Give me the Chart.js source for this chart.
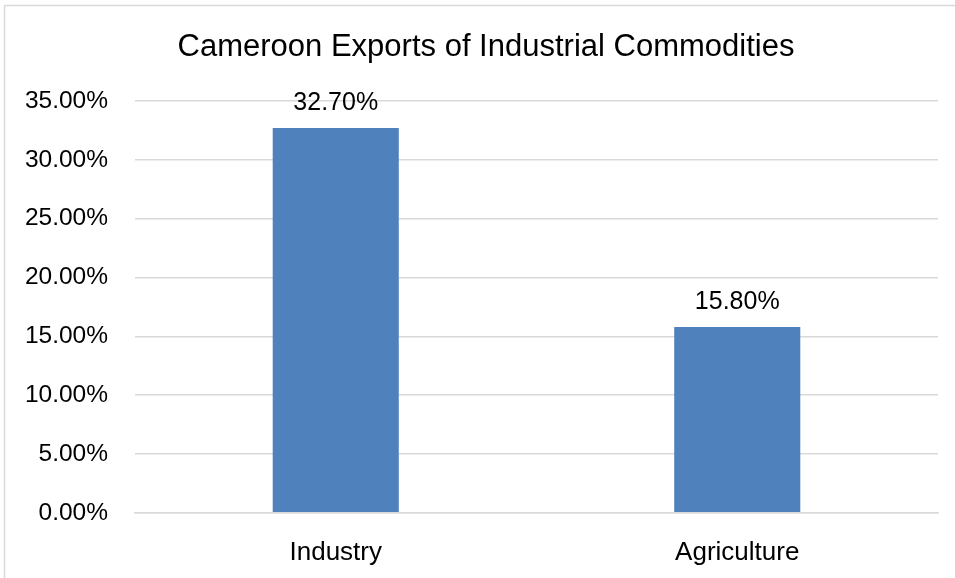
<!DOCTYPE html>
<html>
<head>
<meta charset="utf-8">
<script src="https://cdn.jsdelivr.net/npm/chart.js@4/dist/chart.umd.min.js"></script>
<style>
  html, body { margin: 0; padding: 0; background: #fff; }
  #wrap { width: 955px; height: 578px; position: relative; }
</style>
</head>
<body>
<div id="wrap"><canvas id="myChart" width="955" height="578"></canvas></div>
<script>
const sectors = ['Industry', 'Agriculture']
const shares = [32.7, 15.8]
const tickMax = 35
const tickStep = 5
const chartTitle = 'Cameroon Exports of Industrial Commodities'

const FONT = "'Liberation Sans', Arial, sans-serif"

// grey frame of the chart box (left and top edges are in view) and the title
const frame = {
  id: 'frame',
  beforeDraw(chart) {
    const c = chart.ctx
    c.save()
    c.strokeStyle = '#d9d9d9'
    c.lineWidth = 1.5
    c.beginPath()
    c.moveTo(4.5, chart.height)
    c.lineTo(4.5, 5.5)
    c.lineTo(chart.width, 5.5)
    c.stroke()
    c.font = '31px ' + FONT
    c.fillStyle = '#000'
    c.textAlign = 'center'
    c.textBaseline = 'middle'
    c.fillText(chartTitle, 486, 47)
    c.restore()
  }
}

// percentage printed above each bar
const valueLabels = {
  id: 'valueLabels',
  afterDatasetsDraw(chart) {
    const c = chart.ctx
    const meta = chart.getDatasetMeta(0)
    c.save()
    c.font = '25px ' + FONT
    c.fillStyle = '#000'
    c.textAlign = 'center'
    c.textBaseline = 'middle'
    meta.data.forEach((bar, i) => {
      const v = chart.data.datasets[0].data[i]
      c.fillText(v.toFixed(2) + '%', bar.x, bar.y - 25)
    })
    c.restore()
  }
}

const ctx = document.getElementById('myChart')

new Chart(ctx, {
  type: 'bar',
  data: {
    labels: sectors,
    datasets: [{
      label: 'Share',
      data: shares,
      backgroundColor: '#4f81bd',
      borderWidth: 0,
      categoryPercentage: 1,
      barPercentage: 0.314
    }]
  },
  options: {
    responsive: false,
    animation: false,
    layout: { padding: { left: 0, right: 17, top: 101, bottom: -14 } },
    plugins: {
      legend: { display: false },
      tooltip: { enabled: false },
      title: { display: false }
    },
    scales: {
      x: {
        grid: { display: false, drawTicks: false },
        border: { display: true, color: '#d9d9d9', width: 1.5 },
        ticks: {
          color: '#000',
          padding: 24,
          font: { family: FONT, size: 26 }
        }
      },
      y: {
        min: 0,
        max: tickMax,
        afterFit(scale) { scale.width = 135 },
        grid: { color: '#d9d9d9', lineWidth: 1.5, drawTicks: false },
        border: { display: false },
        ticks: {
          stepSize: tickStep,
          color: '#000',
          padding: 27,
          font: { family: FONT, size: 24.5 },
          callback: v => v.toFixed(2) + '%'
        }
      }
    }
  },
  plugins: [frame, valueLabels]
})
</script>
</body>
</html>
